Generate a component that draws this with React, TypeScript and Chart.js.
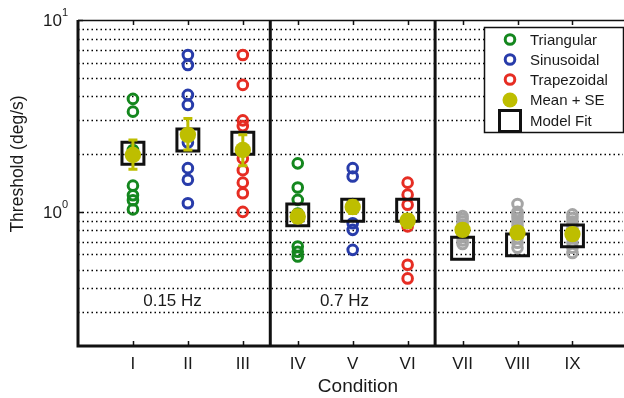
import React, { useEffect, useRef } from "react";
import { Chart, registerables } from "chart.js";

Chart.register(...registerables);

// ---- data ----
const categories = ["I", "II", "III", "IV", "V", "VI", "VII", "VIII", "IX"];
const conditionX = [1, 2, 3, 4, 5, 6, 7, 8, 9];

const triangularI = [3.88, 3.33, 2.1, 1.37, 1.22, 1.15, 1.03];
const triangularIV = [1.79, 1.34, 1.155, 0.98, 0.66, 0.62, 0.585];
const sinusoidalII = [6.57, 5.83, 4.07, 3.61, 2.3, 1.69, 1.47, 1.11];
const sinusoidalV = [1.69, 1.53, 1.1, 0.873, 0.806, 0.634];
const trapezoidalIII = [6.57, 4.59, 3.0, 2.8, 1.9, 1.65, 1.42, 1.25, 1.0];
const trapezoidalVI = [1.42, 1.23, 1.09, 0.84, 0.53, 0.45];
const grayVII = [0.95, 0.92, 0.89, 0.86, 0.83, 0.8, 0.77, 0.74, 0.71, 0.68];
const grayVIII = [1.1, 1.0, 0.97, 0.93, 0.89, 0.85, 0.81, 0.77, 0.73, 0.69, 0.65];
const grayIX = [0.97, 0.93, 0.89, 0.85, 0.81, 0.77, 0.73, 0.69, 0.65, 0.61];

const meanValues = [1.98, 2.52, 2.1, 0.946, 1.06, 0.9, 0.806, 0.78, 0.766];
const seLow = [1.67, 2.1, 1.74, 0.88, 0.98, 0.83, 0.76, 0.73, 0.72];
const seHigh = [2.37, 3.07, 2.52, 1.02, 1.14, 0.97, 0.85, 0.83, 0.81];
const modelFit = [2.02, 2.37, 2.28, 0.965, 1.02, 1.02, 0.647, 0.673, 0.75];

const gridValues = [0.3, 0.4, 0.5, 0.6, 0.7, 0.8, 0.9, 1, 2, 3, 4, 5, 6, 7, 8, 9];
const yTickValues = [1, 10];
const yTickExponents = ["0", "1"];
const separators = [3.5, 6.5];
const freqLabels = ["0.15 Hz", "0.7 Hz"];
const freqLabelX = [1.72, 4.85];
const freqLabelY = 0.34;

const legendLabels = ["Triangular", "Sinusoidal", "Trapezoidal", "Mean + SE", "Model Fit"];

// ---- styles ----
const GREEN = "rgb(20,135,30)";
const BLUE = "rgb(40,60,170)";
const RED = "rgb(230,45,35)";
const YELLOW = "rgb(190,190,0)";
const GRAY = "rgb(165,165,165)";
const FONT = "'Liberation Sans', Arial, Helvetica, sans-serif";

const pts = (x: number, vals: number[]) => vals.map((v) => ({ x, y: v }));

const ringDs = (label: string, color: string, data: { x: number; y: number }[]) => ({
  label,
  data,
  pointStyle: "circle",
  pointRadius: 4.8,
  pointBorderWidth: 3,
  borderColor: color,
  pointBorderColor: color,
  backgroundColor: "rgba(0,0,0,0)",
  pointBackgroundColor: "rgba(0,0,0,0)",
});

const decor = {
  id: "decor",
  beforeDatasetsDraw(chart: any) {
    const { ctx, chartArea: a, scales } = chart;
    const x = scales.x;
    const y = scales.y;
    ctx.save();
    ctx.strokeStyle = "#000";
    ctx.lineWidth = 1.5;
    ctx.setLineDash([1.5, 3]);
    gridValues.forEach((v) => {
      const py = Math.round(y.getPixelForValue(v)) + 0.5;
      ctx.beginPath();
      ctx.moveTo(a.left, py);
      ctx.lineTo(a.right, py);
      ctx.stroke();
    });
    ctx.setLineDash([]);
    ctx.fillStyle = "#1a1a1a";
    ctx.font = `17px ${FONT}`;
    ctx.textAlign = "center";
    ctx.textBaseline = "middle";
    freqLabels.forEach((t, i) => {
      ctx.fillText(t, x.getPixelForValue(freqLabelX[i]), y.getPixelForValue(freqLabelY));
    });
    ctx.restore();
  },
  afterDatasetDraw(chart: any, args: any) {
    if (args.index !== 1) return;
    const { ctx, scales } = chart;
    const x = scales.x;
    const y = scales.y;
    ctx.save();
    ctx.strokeStyle = YELLOW;
    ctx.lineWidth = 3;
    conditionX.forEach((cx, i) => {
      const px = x.getPixelForValue(cx);
      const y1 = y.getPixelForValue(seLow[i]);
      const y2 = y.getPixelForValue(seHigh[i]);
      ctx.beginPath();
      ctx.moveTo(px, y1);
      ctx.lineTo(px, y2);
      ctx.moveTo(px - 4.5, y1);
      ctx.lineTo(px + 4.5, y1);
      ctx.moveTo(px - 4.5, y2);
      ctx.lineTo(px + 4.5, y2);
      ctx.stroke();
    });
    ctx.restore();
  },
  afterDraw(chart: any) {
    const { ctx, chartArea: a, scales } = chart;
    const x = scales.x;
    const y = scales.y;
    ctx.save();
    ctx.strokeStyle = "#111";
    // top border
    ctx.lineWidth = 1.5;
    ctx.beginPath();
    ctx.moveTo(a.left, a.top + 0.5);
    ctx.lineTo(a.right + 2, a.top + 0.5);
    ctx.stroke();
    // tick marks top/bottom
    ctx.lineWidth = 1.5;
    conditionX.forEach((cx) => {
      const px = Math.round(x.getPixelForValue(cx)) + 0.5;
      ctx.beginPath();
      ctx.moveTo(px, a.bottom);
      ctx.lineTo(px, a.bottom - 5);
      ctx.moveTo(px, a.top);
      ctx.lineTo(px, a.top + 5);
      ctx.stroke();
    });
    // y ticks
    yTickValues.forEach((v) => {
      const py = Math.round(y.getPixelForValue(v)) + 0.5;
      ctx.beginPath();
      ctx.moveTo(a.left, py);
      ctx.lineTo(a.left + 5, py);
      ctx.stroke();
    });
    // thick axes
    ctx.lineWidth = 3;
    ctx.beginPath();
    ctx.moveTo(a.left, a.top);
    ctx.lineTo(a.left, a.bottom);
    ctx.lineTo(a.right + 2, a.bottom);
    ctx.stroke();
    separators.forEach((s) => {
      const px = x.getPixelForValue(s);
      ctx.beginPath();
      ctx.moveTo(px, a.top);
      ctx.lineTo(px, a.bottom);
      ctx.stroke();
    });
    // x tick labels
    ctx.fillStyle = "#1a1a1a";
    ctx.font = `17px ${FONT}`;
    ctx.textAlign = "center";
    ctx.textBaseline = "alphabetic";
    categories.forEach((c, i) => {
      ctx.fillText(c, x.getPixelForValue(conditionX[i]), a.bottom + 22.5);
    });
    // y tick labels with superscripts
    yTickValues.forEach((v, i) => {
      const py = y.getPixelForValue(v);
      ctx.font = `17px ${FONT}`;
      ctx.textAlign = "right";
      ctx.textBaseline = "middle";
      ctx.fillText("10", a.left - 16, py + 1);
      ctx.font = `11px ${FONT}`;
      ctx.textAlign = "left";
      ctx.fillText(yTickExponents[i], a.left - 16, py - 7);
    });
    // axis titles
    ctx.font = `19px ${FONT}`;
    ctx.textAlign = "center";
    ctx.textBaseline = "alphabetic";
    ctx.fillText("Condition", a.left + 280, a.bottom + 46);
    ctx.save();
    ctx.translate(23, 164);
    ctx.rotate(-Math.PI / 2);
    ctx.font = `17.5px ${FONT}`;
    ctx.textBaseline = "alphabetic";
    ctx.fillText("Threshold (deg/s)", 0, 0);
    ctx.restore();
    // legend
    const lx = 484;
    const ly = 27;
    const lw = 139;
    const lh = 105;
    ctx.fillStyle = "#fff";
    ctx.fillRect(lx, ly, lw, lh);
    ctx.strokeStyle = "#111";
    ctx.lineWidth = 1.5;
    ctx.strokeRect(lx + 0.5, ly + 0.5, lw, lh);
    const rowY = [39.5, 59.5, 79.5, 100, 121];
    const mx = 510;
    [GREEN, BLUE, RED].forEach((col, i) => {
      ctx.strokeStyle = col;
      ctx.lineWidth = 3;
      ctx.beginPath();
      ctx.arc(mx, rowY[i], 4.8, 0, Math.PI * 2);
      ctx.stroke();
    });
    ctx.fillStyle = YELLOW;
    ctx.beginPath();
    ctx.arc(mx, rowY[3], 7.5, 0, Math.PI * 2);
    ctx.fill();
    ctx.strokeStyle = "#111";
    ctx.lineWidth = 3;
    ctx.strokeRect(mx - 10.5, rowY[4] - 10.5, 21, 21);
    ctx.fillStyle = "#1a1a1a";
    ctx.font = `15px ${FONT}`;
    ctx.textAlign = "left";
    ctx.textBaseline = "middle";
    legendLabels.forEach((t, i) => ctx.fillText(t, 530, rowY[i] + 1));
    ctx.restore();
  },
};

export default function App() {
  const ref = useRef<HTMLCanvasElement>(null);
  useEffect(() => {
    if (!ref.current) return;
    const chart = new Chart(ref.current, {
      type: "scatter",
      data: {
        datasets: [
          {
            label: "Mean + SE",
            data: conditionX.map((cx, i) => ({ x: cx, y: meanValues[i] })),
            pointStyle: "circle",
            pointRadius: 8.2,
            pointBorderWidth: 0,
            backgroundColor: YELLOW,
            pointBackgroundColor: YELLOW,
            borderColor: YELLOW,
          } as any,
          {
            label: "Model Fit",
            data: conditionX.map((cx, i) => ({ x: cx, y: modelFit[i] })),
            pointStyle: "rect",
            pointRadius: 15.5,
            pointBorderWidth: 3,
            borderColor: "#111",
            pointBorderColor: "#111",
            backgroundColor: "rgba(0,0,0,0)",
            pointBackgroundColor: "rgba(0,0,0,0)",
          } as any,
          ringDs("Triangular", GREEN, [...pts(1, triangularI), ...pts(4, triangularIV)]) as any,
          ringDs("Sinusoidal", BLUE, [...pts(2, sinusoidalII), ...pts(5, sinusoidalV)]) as any,
          ringDs("Trapezoidal", RED, [...pts(3, trapezoidalIII), ...pts(6, trapezoidalVI)]) as any,
          ringDs("Pooled", GRAY, [...pts(7, grayVII), ...pts(8, grayVIII), ...pts(9, grayIX)]) as any,
        ],
      },
      options: {
        responsive: false,
        animation: false,
        layout: { autoPadding: false, padding: { left: 78, top: 20, right: 1, bottom: 52 } },
        plugins: { legend: { display: false }, tooltip: { enabled: false } },
        scales: {
          x: { type: "linear", min: 0, max: 9.92, display: false },
          y: { type: "logarithmic", min: 0.2, max: 10, display: false },
        },
      },
      plugins: [decor],
    } as any);
    return () => chart.destroy();
  }, []);
  return (
    <div style={{ position: "fixed", left: 0, top: 0, width: 624, height: 398, background: "#fff" }}>
      <canvas ref={ref} width={624} height={398} style={{ display: "block", width: 624, height: 398 }} />
    </div>
  );
}
